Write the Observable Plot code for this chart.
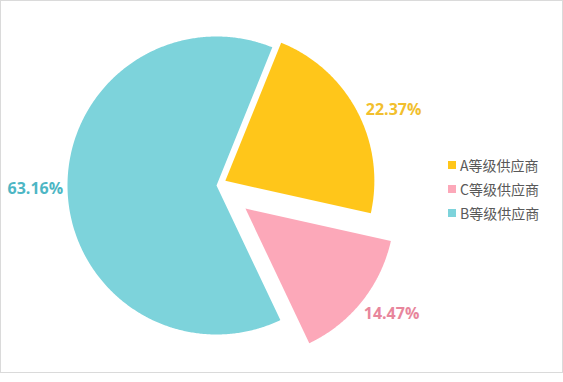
<!DOCTYPE html>
<html>
<head>
<meta charset="utf-8">
<script src="https://cdn.jsdelivr.net/npm/d3@7"></script>
<script src="https://cdn.jsdelivr.net/npm/@observablehq/plot@0.6"></script>
<style>
  html, body { margin: 0; padding: 0; background: #fff; }
  #wrap { position: relative; width: 563px; height: 373px; }
  #frame { position: absolute; left: 0; top: 0; width: 563px; height: 373px; box-sizing: border-box; border: 1px solid #dadada; pointer-events: none; }
  #legend { position: absolute; left: 448px; top: 153px; font-family: "Noto Sans CJK SC", sans-serif; font-size: 14px; color: #595959; }
  .item { display: flex; align-items: center; height: 24px; }
  .sw { width: 8px; height: 8px; margin-right: 4px; }
</style>
</head>
<body>
<div id="wrap"><div id="chart"></div><div id="legend"></div><div id="frame"></div></div>
<script>
// ---- data ----
const categories = ["A等级供应商", "C等级供应商", "B等级供应商"];
const values = [22.37, 14.47, 63.16];
const labels = ["22.37%", "14.47%", "63.16%"];
const legendOrder = ["A等级供应商", "C等级供应商", "B等级供应商"];
const sliceColors = ["#FFC61A", "#FCA8B9", "#7DD3DB"];
const labelColors = ["#F2BF2E", "#E8869C", "#4DB6C4"];

// ---- layout / style ----
const W = 563, H = 373;
const cxPx = 216, cyPx = 185, rPx = 149;
const startDeg = 22;
const explodePx = [10, 37, 0];
const labelGap = 0.05, labelShift = 0.0;
const labelNudge = [[2, 2], [-4, 8], [3, -1]]; // px fine-tuning per label

const pie = d3.pie().sort(null).value(d => d.value)
  .startAngle(startDeg * Math.PI / 180)
  .endAngle(startDeg * Math.PI / 180 + 2 * Math.PI);
const table = categories.map((c, i) => ({cat: c, value: values[i], label: labels[i], color: sliceColors[i], lc: labelColors[i], ex: explodePx[i] / rPx, i}));
const arcs = pie(table);

const polys = arcs.map(a => {
  const mid = (a.startAngle + a.endAngle) / 2;
  const ox = a.data.ex * Math.sin(mid), oy = a.data.ex * Math.cos(mid);
  const pts = [{x: ox, y: oy}];
  const n = Math.max(4, Math.ceil((a.endAngle - a.startAngle) / (Math.PI / 360)));
  for (let k = 0; k <= n; k++) {
    const t = a.startAngle + (a.endAngle - a.startAngle) * k / n;
    pts.push({x: ox + Math.sin(t), y: oy + Math.cos(t)});
  }
  pts.push({x: ox, y: oy});
  return {a, pts, ox, oy, mid};
});

const labelData = polys.map(p => {
  const s = Math.sin(p.mid), c = Math.cos(p.mid);
  const right = s >= 0;
  const nd = labelNudge[p.a.data.i];
  return {
    x: p.ox + (1 + labelGap) * s + (right ? labelShift : -labelShift) + nd[0] / rPx,
    y: p.oy + (1 + labelGap) * c - nd[1] / rPx,
    text: p.a.data.label, color: p.a.data.lc, anchor: right ? "start" : "end"
  };
});

const chart = Plot.plot({
  width: W, height: H,
  margin: 0,
  x: {domain: [-cxPx / rPx, (W - cxPx) / rPx], range: [0, W], axis: null},
  y: {domain: [(cyPx - H) / rPx, cyPx / rPx], range: [H, 0], axis: null},
  marks: [
    ...polys.map(p => Plot.line(p.pts, {x: "x", y: "y", fill: p.a.data.color, stroke: "none", curve: "linear"})),
    ...labelData.map(l => Plot.text([l], {x: "x", y: "y", text: "text", fill: l.color, textAnchor: l.anchor,
      fontSize: 16, fontWeight: "bold", fontFamily: "Open Sans, sans-serif"}))
  ]
});
document.getElementById("chart").appendChild(chart);

const leg = document.getElementById("legend");
legendOrder.forEach(name => {
  const i = categories.indexOf(name);
  const row = document.createElement("div");
  row.className = "item";
  const sw = document.createElement("div");
  sw.className = "sw";
  sw.style.background = sliceColors[i];
  const tx = document.createElement("span");
  tx.textContent = name;
  row.appendChild(sw); row.appendChild(tx);
  leg.appendChild(row);
});
</script>
</body>
</html>
